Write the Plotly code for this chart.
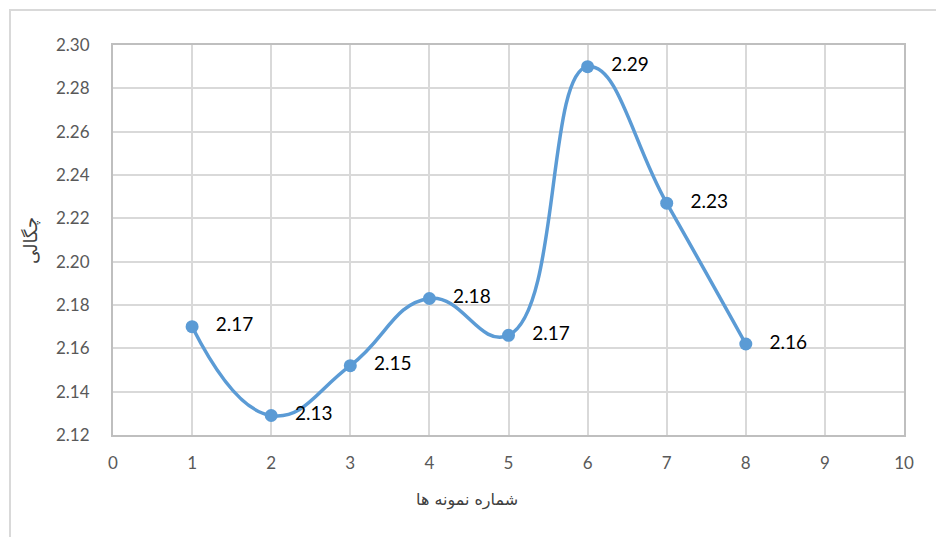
import plotly.graph_objects as go

sample_no = [1, 2, 3, 4, 5, 6, 7, 8]
density = [2.170, 2.129, 2.152, 2.183, 2.166, 2.290, 2.227, 2.162]
y_ticks = [2.12, 2.14, 2.16, 2.18, 2.20, 2.22, 2.24, 2.26, 2.28, 2.30]
x_ticks = [0, 1, 2, 3, 4, 5, 6, 7, 8, 9, 10]
x_title = "شماره نمونه ها"
y_title = "چگالی"

line_color = "#5B9BD5"
grid_color = "#D9D9D9"
tick_font = dict(family="Lato, Liberation Sans, sans-serif", size=17, color="#595959")

fig = go.Figure()
fig.add_trace(go.Scatter(
    x=sample_no, y=density,
    mode="lines+markers+text",
    line=dict(color=line_color, width=3.5, shape="spline", smoothing=1.3),
    marker=dict(color=line_color, size=13),
    text=[f"{v:.2f}" for v in density],
    texttemplate="   %{text}",
    textposition="middle right",
    textfont=dict(family="Lato, Liberation Sans, sans-serif", size=19, color="#000000"),
    cliponaxis=False,
    showlegend=False,
))

fig.update_layout(
    width=944, height=537,
    margin=dict(l=105, r=48, t=37, b=110),
    paper_bgcolor="white", plot_bgcolor="white",
    xaxis=dict(
        range=[0, 10], tickvals=x_ticks, ticktext=[str(v) for v in x_ticks],
        showgrid=True, gridcolor=grid_color, gridwidth=2,
        zeroline=False, showline=True, linecolor="#BFBFBF", linewidth=2, mirror=True,
        ticks="", tickfont=tick_font, ticklabelstandoff=12,
    ),
    yaxis=dict(
        range=[2.12, 2.30], tickvals=y_ticks, ticktext=[f"{v:.2f}" for v in y_ticks],
        showgrid=True, gridcolor=grid_color, gridwidth=2,
        zeroline=False, showline=True, linecolor="#BFBFBF", linewidth=2, mirror=True,
        ticks="", tickfont=tick_font, ticklabelstandoff=18,
    ),
    annotations=[
        dict(text=x_title, xref="paper", yref="paper", x=0.4475, y=-0.167,
             showarrow=False, font=dict(family="DejaVu Sans, sans-serif", size=16, color="#404040"),
             xanchor="center", yanchor="middle"),
        dict(text=y_title, xref="paper", yref="paper", x=-0.105, y=0.50, textangle=-90,
             showarrow=False, font=dict(family="DejaVu Sans, sans-serif", size=18, color="#404040"),
             xanchor="center", yanchor="middle"),
    ],
    shapes=[
        dict(type="rect", xref="paper", yref="paper",
             x0=(10 - 113) / 791, x1=(960 - 113) / 791,
             y0=(435 - 560) / 390, y1=(435 - 10) / 390,
             line=dict(color="#D9D9D9", width=2), layer="below"),
    ],
)

fig.write_html("out.html")
